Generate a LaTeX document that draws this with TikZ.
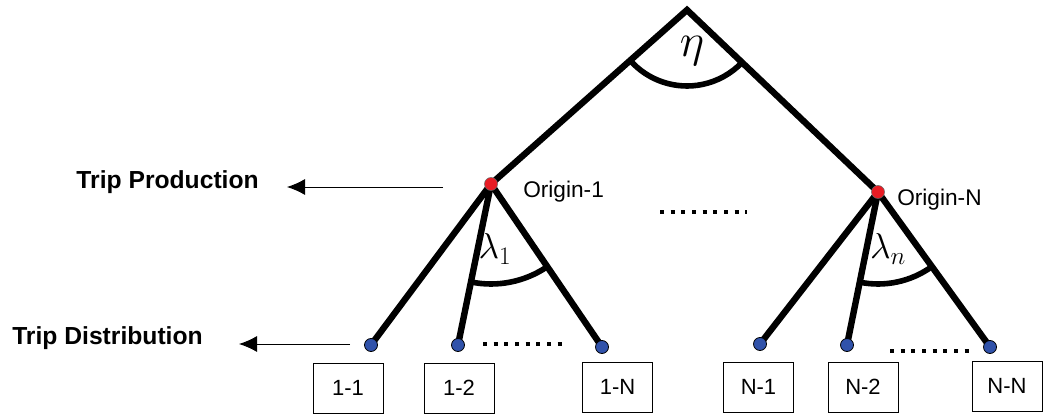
\documentclass[tikz,border=0pt]{standalone}
\usepackage{fix-cm}
\usepackage{fontspec}
\setmainfont{Liberation Sans}
\usetikzlibrary{arrows.meta,angles,backgrounds}

\definecolor{origred}{RGB}{232,28,36}
\definecolor{destblue}{RGB}{48,82,170}

\tikzset{
  branch/.style={line width=4.8pt},
  anglearc/.style={draw,line width=4.2pt},
  origindot/.style={circle,fill=origred,draw=black!60,line width=0.4pt,minimum size=9.75pt,inner sep=0pt},
  leafdot/.style={circle,fill=destblue,draw=black,line width=0.6pt,minimum size=9.75pt,inner sep=0pt},
  pairbox/.style={draw,line width=0.75pt,minimum width=52.5pt,minimum height=37.5pt,inner sep=0pt,font=\fontsize{16.5}{19}\selectfont},
  levelarrow/.style={line width=0.75pt,-{Latex[length=13.5pt,width=12pt]}},
  dotline/.style={line width=3pt,dash pattern=on 3pt off 5pt},
  sidelabel/.style={inner sep=0pt,font=\fontsize{18.5}{22}\selectfont\bfseries},
  originlabel/.style={inner sep=0pt,font=\fontsize{17}{20}\selectfont},
  greek/.style={inner sep=0pt,font=\fontsize{27}{30}\selectfont},
}

\begin{document}
\begin{tikzpicture}[x=0.75pt,y=-0.75pt]
\useasboundingbox (0,0) rectangle (1045,417);

% top of the tree
\coordinate (apex) at (687,10);

% origins
\node[origindot] (o1) at (491,184) {};
\node[origindot] (oN) at (878,192) {};

% destinations
\node[leafdot] (d11) at (371,345) {};
\node[leafdot] (d12) at (458,345) {};
\node[leafdot] (d1N) at (602,347) {};
\node[leafdot] (dN1) at (760,344) {};
\node[leafdot] (dN2) at (847,345) {};
\node[leafdot] (dNN) at (990,347) {};

% pair boxes
\node[pairbox] (b11) at (348,388) {1-1};
\node[pairbox] (b12) at (459,388) {1-2};
\node[pairbox] (b1N) at (617.5,387) {1-N};
\node[pairbox] (bN1) at (758.5,387) {N-1};
\node[pairbox] (bN2) at (863,387) {N-2};
\node[pairbox] (bNN) at (1007,386) {N-N};

% branches
\begin{scope}[on background layer]
\draw[branch,line join=miter] (o1.center) -- (apex) -- (oN.center);
\foreach \d in {d11,d12,d1N}
  \draw[branch] (o1.center) -- (\d.center);
\foreach \d in {dN1,dN2,dNN}
  \draw[branch] (oN.center) -- (\d.center);
\end{scope}

% nesting angles
\path pic[anglearc,angle radius=57pt] {angle=o1--apex--oN};
\path pic[anglearc,angle radius=75pt] {angle=d12--o1--d1N};
\path pic[anglearc,angle radius=69pt] {angle=dN2--oN--dNN};

\node[greek] (eta) at (692,51) {\scalebox{1.3}{$\eta$}};
\node[greek] (lam1) at (495,249) {$\lambda_1$};
\node[greek] (lamn) at (888,249) {$\lambda_n$};

% origin names
\node[originlabel,anchor=base west] (o1name) at (523,197) {Origin-1};
\node[originlabel,anchor=base west] (oNname) at (897,205) {Origin-N};

% level labels
\node[sidelabel,anchor=base east] (prod) at (259,188) {Trip Production};
\node[sidelabel,anchor=base east] (dist) at (203,344) {Trip Distribution};
\coordinate (prodtail) at (443,187);
\coordinate (disttail) at (350,344);
\draw[levelarrow,shorten >=21pt] (prodtail) -- (prodtail -| prod.east);
\draw[levelarrow,shorten >=27pt] (disttail) -- (disttail -| dist.east);

% ellipses
\draw[dotline] (660,212) -- (747,212);
\draw[dotline] (483,344) -- (568,344);
\draw[dotline] (890,351) -- (970,351);

\end{tikzpicture}
\end{document}
